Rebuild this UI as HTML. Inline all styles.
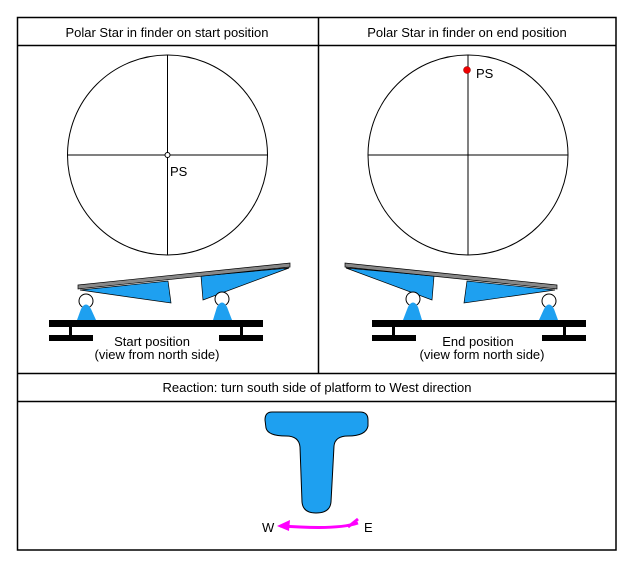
<!DOCTYPE html>
<html><head><style>body{margin:0;background:#fff}svg{display:block}</style></head><body>
<svg width="634" height="568" viewBox="0 0 634 568" xmlns="http://www.w3.org/2000/svg" font-family="Liberation Sans, sans-serif">
<rect x="17.5" y="17.5" width="598.5" height="532.5" fill="none" stroke="#000" stroke-width="1.5"/>
<line x1="17" y1="45.5" x2="616" y2="45.5" stroke="#000" stroke-width="1.5"/>
<line x1="318.5" y1="17" x2="318.5" y2="373" stroke="#000" stroke-width="1.5"/>
<line x1="17" y1="373.5" x2="616" y2="373.5" stroke="#000" stroke-width="1.5"/>
<line x1="17" y1="401.5" x2="616" y2="401.5" stroke="#000" stroke-width="1.5"/>
<text x="167" y="37" font-size="13" text-anchor="middle">Polar Star in finder on start position</text>
<text x="467" y="37" font-size="13" text-anchor="middle">Polar Star in finder on end position</text>
<text x="317" y="392" font-size="13" text-anchor="middle">Reaction: turn south side of platform to West direction</text>
<g fill="none" stroke="#000" stroke-width="1">
<circle cx="167.5" cy="155" r="100"/>
<line x1="67" y1="155" x2="268" y2="155"/><line x1="167.5" y1="55" x2="167.5" y2="255"/>
<circle cx="468" cy="155" r="100"/>
<line x1="368" y1="155" x2="568" y2="155"/><line x1="468" y1="55" x2="468" y2="255"/>
</g>
<circle cx="167.5" cy="155" r="2.5" fill="#fff" stroke="#000"/>
<text x="170" y="176" font-size="13">PS</text>
<circle cx="467" cy="70" r="3.5" fill="#e00" stroke="#800" stroke-width="0.5"/>
<text x="476" y="78" font-size="13">PS</text>
<defs>
<g id="plat">
<polygon points="80,290 168,281 171,303" fill="#1ea0f0" stroke="#000" stroke-width="0.7"/>
<polygon points="201,276 289,268 203,300" fill="#1ea0f0" stroke="#000" stroke-width="0.7"/>
<polygon points="78,285 290,263 290,267 78,289" fill="#888" stroke="#000" stroke-width="0.7"/>
<circle cx="86" cy="301" r="7" fill="#fff" stroke="#000"/>
<circle cx="222" cy="299" r="7" fill="#fff" stroke="#000"/>
<path d="M77,320 L81,309 Q86,300 91,309 L96,320 Z" fill="#1ea0f0"/>
<path d="M213,320 L217,307 Q222,298 227,307 L232,320 Z" fill="#1ea0f0"/>
<rect x="49" y="320" width="214" height="7" fill="#000"/>
<rect x="49" y="335" width="44" height="6" fill="#000"/>
<rect x="69" y="327" width="3" height="9" fill="#000"/>
<rect x="219" y="335" width="44" height="6" fill="#000"/>
<rect x="240" y="327" width="3" height="9" fill="#000"/>
</g>
</defs>
<use href="#plat"/>
<use href="#plat" transform="translate(635,0) scale(-1,1)"/>
<text x="152" y="346" font-size="13" text-anchor="middle">Start position</text>
<text x="157" y="359" font-size="13" text-anchor="middle">(view from north side)</text>
<text x="478" y="346" font-size="13" text-anchor="middle">End position</text>
<text x="482" y="359" font-size="13" text-anchor="middle">(view form north side)</text>
<path d="M272,412 L360,412 Q368,412 368,420 L368,426 Q366,436 348,436 Q335,436 334,446 L331,502 Q330,513 316,513 Q303,513 302,502 L300,447 Q299,436 286,436 Q268,436 266,428 L265,420 Q265,412 272,412 Z" fill="#1ea0f0" stroke="#000" stroke-width="1"/>
<path d="M358,523 Q340,529 300,527 L280,526" fill="none" stroke="#f0f" stroke-width="3"/>
<polygon points="277,526 290,520 289,531" fill="#f0f"/>
<path d="M358,519 L348,527" stroke="#f0f" stroke-width="3"/>
<text x="262" y="532" font-size="13">W</text>
<text x="364" y="532" font-size="13">E</text>
</svg>
</body></html>
